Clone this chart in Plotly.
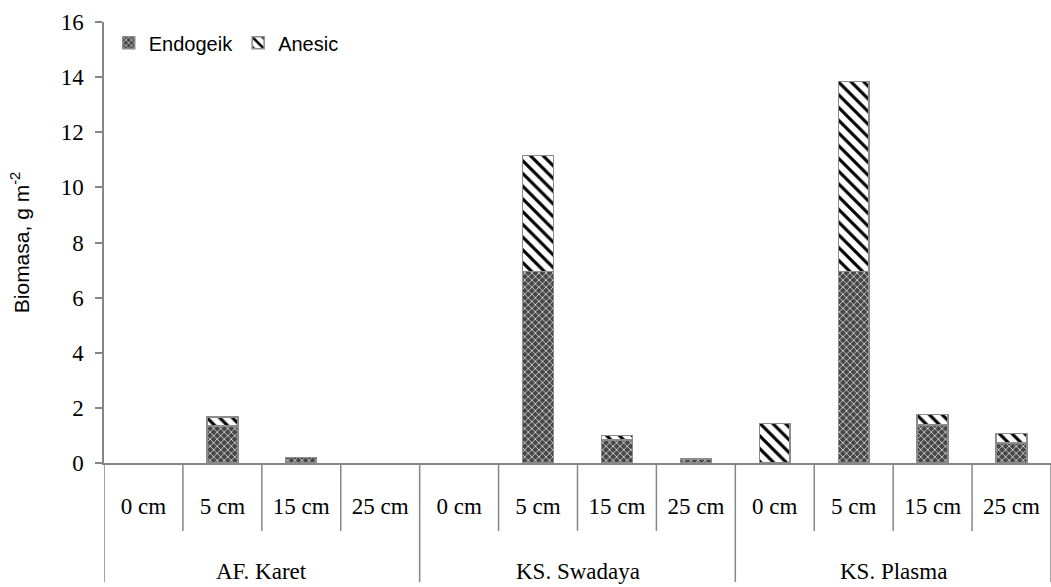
import plotly.graph_objects as go

# Earthworm biomass by land use and soil depth
groups = ["AF. Karet", "KS. Swadaya", "KS. Plasma"]
depths = ["0 cm", "5 cm", "15 cm", "25 cm"]
endogeik = [0, 1.35, 0.2, 0,
            0, 6.95, 0.83, 0.15,
            0, 6.95, 1.37, 0.73]
anesic = [0, 0.32, 0, 0,
          0, 4.2, 0.16, 0,
          1.43, 6.9, 0.39, 0.34]

n_depth = len(depths)
xpos = list(range(len(groups) * n_depth))
ticktext = depths * len(groups)


def nz(vals):
    return [v if v else None for v in vals]


AXIS = "#868686"
SERIF = "Liberation Serif, Times New Roman, serif"
SANS = "Liberation Sans, Arial, sans-serif"

fig = go.Figure()
fig.add_bar(
    x=xpos, y=nz(endogeik), name="Endogeik", width=0.39,
    marker=dict(
        color="#5a5a5a",
        line=dict(color="#8c8c8c", width=1.5),
        pattern=dict(shape="x", fgcolor="white", bgcolor="#474747",
                     size=5, solidity=0.25, fillmode="replace"),
    ),
)
fig.add_bar(
    x=xpos, y=nz(anesic), name="Anesic", width=0.39,
    marker=dict(
        color="white",
        line=dict(color="#8c8c8c", width=1.5),
        pattern=dict(shape="\\", fgcolor="black", bgcolor="white",
                     size=9, solidity=0.35, fillmode="replace"),
    ),
)

shapes = []
# separators between depth columns
for i in range(1, len(xpos)):
    if i % n_depth:
        shapes.append(dict(type="line", xref="x", yref="paper",
                           x0=i - 0.5, x1=i - 0.5, y0=0, y1=-0.154,
                           line=dict(color=AXIS, width=1.5)))
# separators between land-use groups
for g in range(len(groups) + 1):
    xb = g * n_depth - 0.5
    shapes.append(dict(type="line", xref="x", yref="paper",
                       x0=xb, x1=xb, y0=0, y1=-0.27,
                       line=dict(color=AXIS, width=1.5)))

annotations = [
    dict(text=g, xref="x", yref="paper", x=k * n_depth + (n_depth - 1) / 2,
         y=-0.246, showarrow=False, yanchor="middle",
         font=dict(family=SERIF, size=23, color="black"))
    for k, g in enumerate(groups)
]

fig.update_layout(
    width=1051, height=587,
    margin=dict(l=104, r=0, t=22, b=124),
    plot_bgcolor="white", paper_bgcolor="white",
    barmode="stack",
    bargap=0.6,
    shapes=shapes,
    annotations=annotations,
    showlegend=True,
    legend=dict(orientation="h", x=0.005, y=0.997, xanchor="left", yanchor="top",
                font=dict(family=SANS, size=20, color="black"),
                itemwidth=30, traceorder="normal", bgcolor="rgba(0,0,0,0)"),
    xaxis=dict(
        range=[-0.5, len(xpos) - 0.5],
        tickmode="array", tickvals=xpos, ticktext=ticktext,
        ticks="", showgrid=False, zeroline=False,
        showline=True, linecolor=AXIS, linewidth=1.5,
        tickfont=dict(family=SERIF, size=23, color="black"),
        ticklabelstandoff=22,
    ),
    yaxis=dict(
        range=[0, 16], dtick=2, tick0=0,
        ticks="outside", ticklen=7, tickcolor=AXIS, tickwidth=1.5,
        showgrid=False, zeroline=False,
        showline=True, linecolor=AXIS, linewidth=1.5,
        tickfont=dict(family=SERIF, size=23, color="black"),
        ticklabelstandoff=7,
        title=dict(text="Biomasa, g m<sup>-2</sup>",
                   font=dict(family=SANS, size=21, color="black"),
                   standoff=25),
    ),
)

fig.write_html("out.html")
